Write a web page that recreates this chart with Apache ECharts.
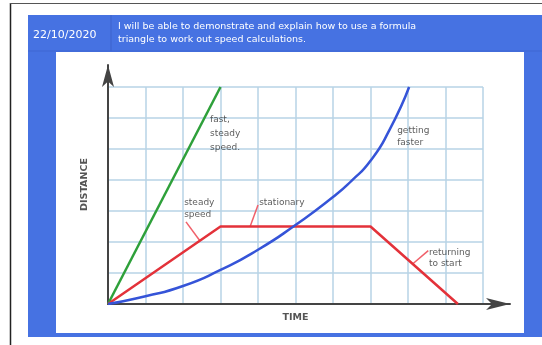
<!DOCTYPE html>
<html>
<head>
<meta charset="utf-8">
<script src="https://cdn.jsdelivr.net/npm/echarts@6/dist/echarts.min.js"></script>
<style>
  html, body { margin: 0; padding: 0; background: #ffffff; }
  #chart { width: 542px; height: 345px; }
</style>
</head>
<body>
<div id="chart"></div>
<script>
// Distance-time graph: three journeys on a 10 x 7 grid
const timeTicks = [0, 10];
const distanceTicks = [0, 7];

// fast, steady speed
const fastTime = [0, 3];
const fastDist = [0, 7];

// steady speed, stationary, returning to start
const tripTime = [0, 3, 7, 9.33];
const tripDist = [0, 2.5, 2.5, 0];

// getting faster
const curveTime = [0, 1, 2, 3, 4, 5, 6, 6.5, 7, 7.5, 8.03];
const curveDist = [0, 0.25, 0.58, 1.1, 1.75, 2.55, 3.45, 3.98, 4.62, 5.6, 7];

// annotation text (anchor = top-left of text in graph units)
const noteText = ['fast,\nsteady\nspeed.', 'getting\nfaster', 'steady\nspeed', 'stationary', 'returning\nto start'];
const noteTime = [2.72, 7.71, 2.03, 4.03, 8.56];
const noteDist = [6.16, 5.77, 3.45, 3.45, 1.84];
const noteLineHeight = [14, 12, 12, 12, 11];

// pointer lines from the annotations to the red journey
const pointerTime = [[2.08, 2.45], [4.0, 3.79], [8.54, 8.13]];
const pointerDist = [[2.65, 2.04], [3.19, 2.5], [1.72, 1.3]];

const headerDate = '22/10/2020';
const headerText = 'I will be able to demonstrate and explain how to use a formula\ntriangle to work out speed calculations.';

const pair = (xs, ys) => xs.map((x, i) => [x, ys[i]]);

const chart = echarts.init(document.getElementById('chart'), null, { renderer: 'canvas' });

const gridColor = '#b7d3e6';
const labelFont = 'DejaVu Sans';

const pointerSeries = pointerTime.map((xs, i) => ({
  type: 'line',
  xAxisIndex: 0, yAxisIndex: 0,
  data: pair(xs, pointerDist[i]),
  symbol: 'none',
  silent: true,
  lineStyle: { color: '#f0606a', width: 1.5 },
  z: 3
}));

chart.setOption({
  animation: false,
  backgroundColor: '#ffffff',
  graphic: [
    // outer frame
    { type: 'line', shape: { x1: 10.5, y1: 3, x2: 10.5, y2: 345 }, style: { stroke: '#222', lineWidth: 1.5 }, z: -10 },
    { type: 'line', shape: { x1: 10, y1: 3.5, x2: 542, y2: 3.5 }, style: { stroke: '#555', lineWidth: 1 }, z: -10 },
    // slide panel
    { type: 'rect', shape: { x: 28, y: 15, width: 520, height: 322 }, style: { fill: '#4672e2' }, z: -9 },
    { type: 'line', shape: { x1: 28, y1: 51, x2: 542, y2: 51 }, style: { stroke: '#3f66d2', lineWidth: 1 }, z: -8 },
    { type: 'line', shape: { x1: 111, y1: 15, x2: 111, y2: 51 }, style: { stroke: '#3d63cc', lineWidth: 1 }, z: -8 },
    { type: 'rect', shape: { x: 56, y: 52, width: 468, height: 281 }, style: { fill: '#ffffff' }, z: -7 },
    // header text
    { type: 'text', x: 33, y: 35, style: { text: headerDate, fill: '#ffffff', font: '11px ' + labelFont, textVerticalAlign: 'middle' }, z: 10 },
    { type: 'text', x: 118, y: 33, style: { text: headerText, fill: '#ffffff', font: '9.5px ' + labelFont, lineHeight: 13, textVerticalAlign: 'middle' }, z: 10 }
  ],
  grid: [
    { left: 108, top: 87, width: 375, height: 217 },
    { left: 108, top: 65, width: 402, height: 239 }
  ],
  xAxis: [
    {
      type: 'value', gridIndex: 0, min: timeTicks[0], max: timeTicks[1], interval: 1,
      axisLine: { show: false }, axisTick: { show: false }, axisLabel: { show: false },
      splitLine: { show: true, lineStyle: { color: gridColor, width: 1.5 } },
      name: 'TIME', nameLocation: 'middle', nameGap: 9,
      nameTextStyle: { color: '#555', fontFamily: labelFont, fontSize: 9.5, fontWeight: 'bold' }
    },
    {
      type: 'value', gridIndex: 1, min: 0, max: 1,
      axisLine: { show: true, symbol: ['none', 'arrow'], symbolSize: [9, 24], lineStyle: { color: '#444', width: 2 } },
      axisTick: { show: false }, axisLabel: { show: false }, splitLine: { show: false }
    }
  ],
  yAxis: [
    {
      type: 'value', gridIndex: 0, min: distanceTicks[0], max: distanceTicks[1], interval: 1,
      axisLine: { show: false }, axisTick: { show: false }, axisLabel: { show: false },
      splitLine: { show: true, lineStyle: { color: gridColor, width: 1.5 } }
    },
    {
      type: 'value', gridIndex: 1, min: 0, max: 1,
      axisLine: { show: true, symbol: ['none', 'arrow'], symbolSize: [9, 22], lineStyle: { color: '#444', width: 2 } },
      axisTick: { show: false }, axisLabel: { show: false }, splitLine: { show: false },
      name: 'DISTANCE', nameLocation: 'middle', nameGap: 18, nameRotate: 90,
      nameTextStyle: { color: '#555', fontFamily: labelFont, fontSize: 9.5, fontWeight: 'bold' }
    }
  ],
  series: [
    {
      type: 'line', xAxisIndex: 0, yAxisIndex: 0, data: pair(fastTime, fastDist),
      symbol: 'none', lineStyle: { color: '#2ea03a', width: 2.5 }, z: 4
    },
    {
      type: 'line', xAxisIndex: 0, yAxisIndex: 0, data: pair(tripTime, tripDist),
      symbol: 'none', lineStyle: { color: '#e3323a', width: 2.5 }, z: 4
    },
    {
      type: 'line', xAxisIndex: 0, yAxisIndex: 0, data: pair(curveTime, curveDist),
      symbol: 'none', smooth: 0.6, lineStyle: { color: '#3554d8', width: 2.5 }, z: 5
    },
    ...pointerSeries,
    {
      type: 'scatter', xAxisIndex: 0, yAxisIndex: 0,
      symbolSize: 0, silent: true, clip: false,
      data: noteText.map((t, i) => ({
        value: [noteTime[i], noteDist[i]],
        label: { lineHeight: noteLineHeight[i] },
        name: t
      })),
      label: {
        show: true, position: [0, 0], align: 'left', verticalAlign: 'top',
        formatter: p => p.name, color: '#333', fontFamily: labelFont, fontSize: 9
      },
      z: 6
    }
  ]
});
</script>
</body>
</html>
